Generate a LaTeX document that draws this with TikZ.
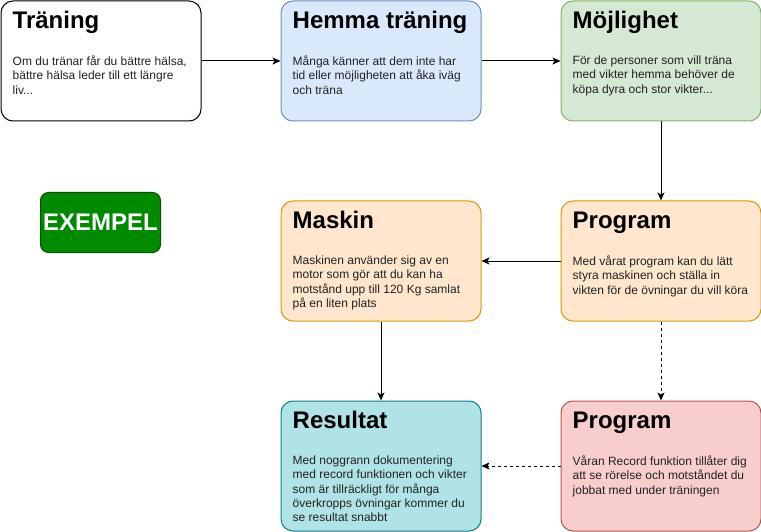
\documentclass[tikz,border=0pt]{standalone}
\usepackage{fontspec}
\setmainfont{Liberation Sans}
\usetikzlibrary{arrows.meta,calc}
\definecolor{bluefill}{HTML}{DAE8FC}\definecolor{bluedraw}{HTML}{6C8EBF}
\definecolor{greenfill}{HTML}{D5E8D4}\definecolor{greendraw}{HTML}{82B366}
\definecolor{orfill}{HTML}{FFE6CC}\definecolor{ordraw}{HTML}{D79B00}
\definecolor{tealfill}{HTML}{B0E3E6}\definecolor{tealdraw}{HTML}{0E8088}
\definecolor{redfill}{HTML}{F8CECC}\definecolor{reddraw}{HTML}{B85450}
\definecolor{exfill}{HTML}{008A00}\definecolor{exdraw}{HTML}{005700}
\definecolor{bodytext}{HTML}{222222}
\tikzset{
  card/.style={draw, line width=1pt, rounded corners=12pt, minimum width=200pt, minimum height=120pt, anchor=north west, inner sep=0pt},
  cardtitle/.style={anchor=base west, inner sep=0pt, font=\fontsize{24}{28}\selectfont\bfseries, text=black},
  cardbody/.style={anchor=north west, inner sep=0pt, align=left, font=\fontsize{12}{14.4}\selectfont, text=bodytext},
  arr/.style={line width=1pt, -{Stealth[length=8pt,width=7pt,inset=2pt]}},
  dasharr/.style={arr, dash pattern=on 3pt off 3pt}
}
\begin{document}
\begin{tikzpicture}[x=1pt,y=-1pt]
\useasboundingbox (0,0) rectangle (761,532);
% boxes
\node[card, fill=white, draw=black] (b1) at (0.5,0.5) {};
\node[card, fill=bluefill, draw=bluedraw] (b2) at (280.5,0.5) {};
\node[card, fill=greenfill, draw=greendraw] (b3) at (560.5,0.5) {};
\node[card, fill=orfill, draw=ordraw] (mask) at (280.5,200.5) {};
\node[card, fill=orfill, draw=ordraw] (p1) at (560.5,200.5) {};
\node[card, fill=tealfill, draw=tealdraw, minimum height=130pt] (res) at (280.5,400.5) {};
\node[card, fill=redfill, draw=reddraw, minimum height=130pt] (p2) at (560.5,400.5) {};
\node[draw=exdraw, fill=exfill, line width=1pt, rounded corners=8pt, minimum width=120pt, minimum height=60pt, inner sep=0pt, text=white, font=\fontsize{24}{28}\selectfont\bfseries] (ex) at (100.5,222.5) {EXEMPEL};
% titles
\node[cardtitle] (t1) at ($(b1.north west)+(12,28)$) {Träning};
\node[cardtitle] (t2) at ($(b2.north west)+(12,28)$) {Hemma träning};
\node[cardtitle] (t3) at ($(b3.north west)+(12,28)$) {Möjlighet};
\node[cardtitle] (t4) at ($(mask.north west)+(12,28)$) {Maskin};
\node[cardtitle] (t5) at ($(p1.north west)+(12,28)$) {Program};
\node[cardtitle] (t6) at ($(res.north west)+(12,28)$) {Resultat};
\node[cardtitle] (t7) at ($(p2.north west)+(12,28)$) {Program};
% bodies
\node[cardbody] (d1) at ($(b1.north west)+(12,55)$) {Om du tränar får du bättre hälsa,\\bättre hälsa leder till ett längre\\liv...};
\node[cardbody] (d2) at ($(b2.north west)+(12,55)$) {Många känner att dem inte har\\tid eller möjligheten att åka iväg\\och träna};
\node[cardbody] (d3) at ($(b3.north west)+(12,55)$) {För de personer som vill träna\\med vikter hemma behöver de\\köpa dyra och stor vikter...};
\node[cardbody] (d4) at ($(mask.north west)+(12,55)$) {Maskinen använder sig av en\\motor som gör att du kan ha\\motstånd upp till 120 Kg samlat\\på en liten plats};
\node[cardbody] (d5) at ($(p1.north west)+(12,55)$) {Med vårat program kan du lätt\\styra maskinen och ställa in\\vikten för de övningar du vill köra};
\node[cardbody] (d6) at ($(res.north west)+(12,55)$) {Med noggrann dokumentering\\med record funktionen och vikter\\som är tillräckligt för många\\överkropps övningar kommer du\\se resultat snabbt};
\node[cardbody] (d7) at ($(p2.north west)+(12,55)$) {Våran Record funktion tillåter dig\\att se rörelse och motståndet du\\jobbat med under träningen};
% connectors
\draw[arr] (b1.east) -- (b2.west);
\draw[arr] (b2.east) -- (b3.west);
\draw[arr] (b3.south) -- (p1.north);
\draw[arr] (p1.west) -- (mask.east);
\draw[arr] (mask.south) -- (res.north);
\draw[dasharr] (p1.south) -- (p2.north);
\draw[dasharr] (p2.west) -- (res.east);
\end{tikzpicture}
\end{document}
